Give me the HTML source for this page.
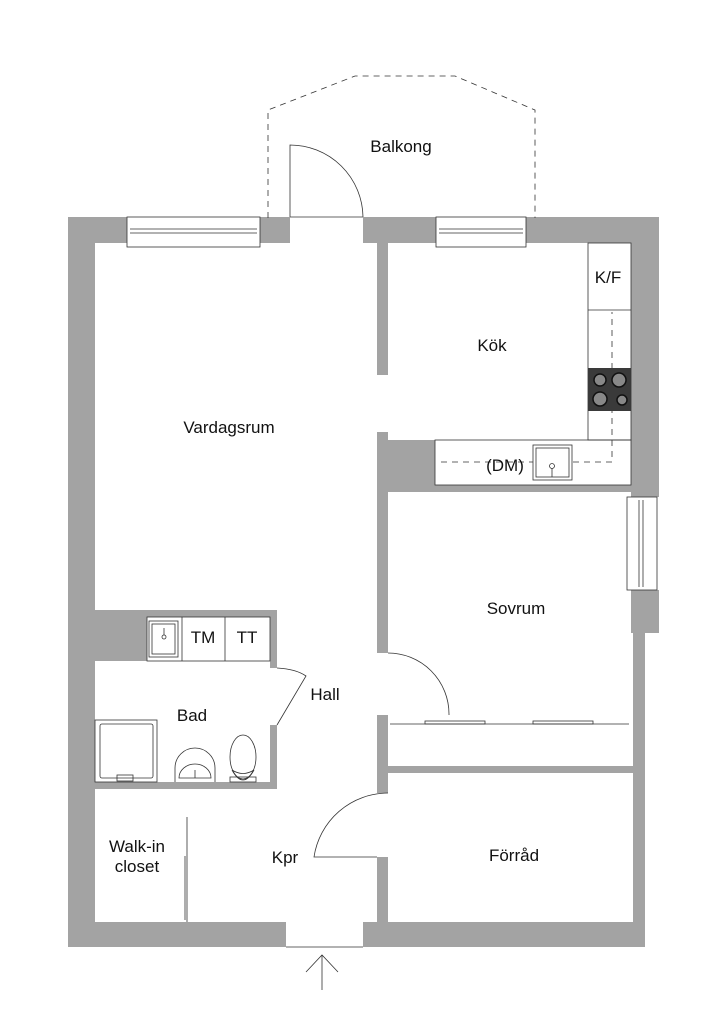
<!DOCTYPE html>
<html><head><meta charset="utf-8"><style>
html,body{margin:0;padding:0;background:#fff}
svg{display:block}
text{font-family:"Liberation Sans",sans-serif;font-size:17px;fill:#111;text-anchor:middle}
</style></head><body>
<svg width="724" height="1024" viewBox="0 0 724 1024" xmlns="http://www.w3.org/2000/svg">
<g fill="#a3a3a3" stroke="none">
<rect x="68" y="217" width="27" height="730"/>
<rect x="68" y="217" width="222" height="26"/>
<rect x="363" y="217" width="296" height="26"/>
<rect x="631" y="217" width="28" height="280"/>
<rect x="631" y="590" width="28" height="43"/>
<rect x="633" y="633" width="12" height="314"/>
<rect x="68" y="922" width="218" height="25"/>
<rect x="363" y="922" width="282" height="25"/>
<rect x="377" y="243" width="11" height="132"/>
<rect x="377" y="432" width="11" height="221"/>
<rect x="388" y="440" width="47" height="45"/>
<rect x="377" y="485" width="254" height="7"/>
<rect x="377" y="715" width="11" height="78"/>
<rect x="377" y="857" width="11" height="65"/>
<rect x="388" y="766" width="245" height="7"/>
<rect x="95" y="610" width="182" height="7"/>
<rect x="270" y="610" width="7" height="58"/>
<rect x="95" y="617" width="52" height="44"/>
<rect x="270" y="725" width="7" height="64"/>
<rect x="95" y="782" width="182" height="7"/>
</g>
<g fill="#fff" stroke="#333" stroke-width="0.8">
<rect x="127" y="217" width="133" height="30"/>
<rect x="436" y="217" width="90" height="30"/>
<rect x="627" y="497" width="30" height="93"/>
</g>
<g stroke="#333" stroke-width="0.8" fill="none">
<line x1="130" y1="229" x2="257" y2="229"/><line x1="130" y1="233" x2="257" y2="233"/>
<line x1="439" y1="229" x2="523" y2="229"/><line x1="439" y1="233" x2="523" y2="233"/>
<line x1="639" y1="500" x2="639" y2="587"/><line x1="643" y1="500" x2="643" y2="587"/>
<line x1="290" y1="217" x2="363" y2="217"/>
<line x1="286" y1="947" x2="363" y2="947"/>
<path d="M268 218 V110 L355 76 H455 L535 110 V218" stroke-dasharray="6,5"/>
<path d="M290 217 V145 A73 73 0 0 1 363 217"/>
<rect x="588" y="243" width="43" height="197"/>
<line x1="588" y1="310" x2="631" y2="310"/>
<rect x="435" y="440" width="196" height="45"/>
<path d="M441 462 H612 V312" stroke-dasharray="6,5"/>
<rect x="533" y="445" width="39" height="35" fill="#fff"/>
<rect x="536" y="448" width="33" height="29"/>
<circle cx="552" cy="466" r="2.5"/><line x1="552" y1="468" x2="552" y2="477"/>
<path d="M388 653 A61 61 0 0 1 449 714 V715"/>
<line x1="390" y1="724" x2="629" y2="724"/>
<rect x="425" y="721" width="60" height="3"/><rect x="533" y="721" width="60" height="3"/>
<path d="M388 793 A75 75 0 0 0 314 857 H377"/>
<path d="M277 668 Q296 669 306 676 L277 725"/>
<rect x="147" y="617" width="123" height="44" fill="#fff"/>
<line x1="182" y1="617" x2="182" y2="661"/><line x1="225" y1="617" x2="225" y2="661"/>
<rect x="149" y="621" width="29" height="36"/><rect x="152" y="624" width="23" height="30"/>
<circle cx="164" cy="637" r="2"/><line x1="164" y1="628" x2="164" y2="635"/>
<rect x="95" y="720" width="62" height="62"/><rect x="100" y="724" width="53" height="54" rx="2"/>
<rect x="117" y="775" width="16" height="6"/>
<path d="M175 782 V768 A20 20 0 0 1 215 768 V782"/>
<path d="M179 778 A16 14 0 0 1 211 778 Z"/>
<line x1="195" y1="770" x2="195" y2="778"/>
<ellipse cx="243" cy="757" rx="13" ry="22"/>
<path d="M232 770 Q243 790 254 770 Q243 777 232 770"/>
<rect x="230" y="777" width="26" height="5"/>
<line x1="187" y1="817" x2="187" y2="922"/><line x1="185" y1="856" x2="185" y2="920"/>
<path d="M322 990 V955 M306 972 L322 955 L338 972"/>
</g>
<rect x="588" y="368" width="43" height="43" fill="#3a3a3a"/>
<g fill="#888" stroke="#111" stroke-width="1.5">
<circle cx="600" cy="380" r="6"/><circle cx="619" cy="380" r="7"/>
<circle cx="600" cy="399" r="7"/><circle cx="622" cy="400" r="5"/>
</g>
<text x="401" y="152">Balkong</text>
<text x="608" y="283">K/F</text>
<text x="492" y="351">Kök</text>
<text x="229" y="433">Vardagsrum</text>
<text x="505" y="471">(DM)</text>
<text x="516" y="614">Sovrum</text>
<text x="203" y="643">TM</text>
<text x="247" y="643">TT</text>
<text x="192" y="721">Bad</text>
<text x="325" y="700">Hall</text>
<text x="137" y="852">Walk-in</text>
<text x="137" y="872">closet</text>
<text x="285" y="863">Kpr</text>
<text x="514" y="861">Förråd</text>
</svg>
</body></html>
